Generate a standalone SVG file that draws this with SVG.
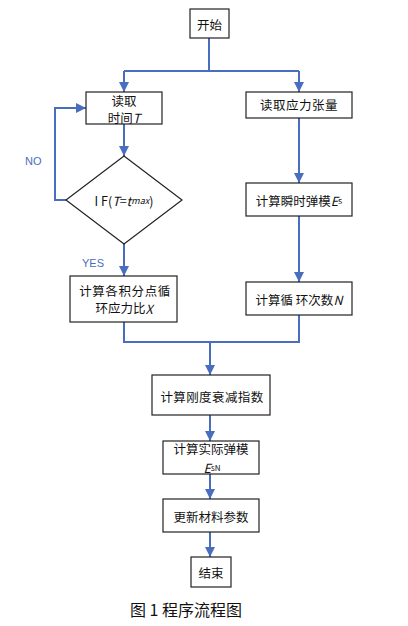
<svg xmlns="http://www.w3.org/2000/svg" width="408" height="626" viewBox="0 0 408 626">
<style>
.box{fill:#fff;stroke:#222;stroke-width:1.2}
.ln{fill:none;stroke:#4A6EBE;stroke-width:2}
.t{font-family:"Noto Sans CJK SC","Liberation Sans",sans-serif;font-size:12.5px;fill:#111;text-anchor:middle;dominant-baseline:central}
.i{font-style:italic}
.lb{font-family:"Liberation Sans",sans-serif;font-size:11px;fill:#4A6EBE;dominant-baseline:central}
.cap{font-family:"Noto Sans CJK SC","Liberation Serif",serif;font-size:16px;fill:#111;text-anchor:middle;dominant-baseline:central}
</style>
<defs>
<marker id="ah" viewBox="0 0 10 10" refX="10" refY="5" markerWidth="5" markerHeight="5" markerUnits="strokeWidth" orient="auto">
<path d="M0,0L10,5L0,10z" fill="#4A6EBE"/>
</marker>
</defs>
<rect width="408" height="626" fill="#fff"/>
<g id="connectors">
<path class="ln" d="M209,38V71"/>
<path class="ln" d="M124,71H299"/>
<path class="ln" d="M124,71V92" marker-end="url(#ah)"/>
<path class="ln" d="M299,71V92" marker-end="url(#ah)"/>
<path class="ln" d="M124,124V156" marker-end="url(#ah)"/>
<path class="ln" d="M66,200H55V108H86" marker-end="url(#ah)"/>
<path class="ln" d="M124,244V276" marker-end="url(#ah)"/>
<path class="ln" d="M299,118V183" marker-end="url(#ah)"/>
<path class="ln" d="M299,216V282" marker-end="url(#ah)"/>
<path class="ln" d="M124,322V342H299V315"/>
<path class="ln" d="M210,342V375" marker-end="url(#ah)"/>
<path class="ln" d="M210,415V441" marker-end="url(#ah)"/>
<path class="ln" d="M210,474V499" marker-end="url(#ah)"/>
<path class="ln" d="M210,532V557" marker-end="url(#ah)"/>
<text class="lb" x="25" y="161">NO</text>
<text class="lb" x="82" y="263">YES</text>
</g>
<g id="start"><rect class="box" x="190" y="9" width="39" height="29"/><text class="t" x="209.5" y="24">开始</text></g>
<g id="readT"><rect class="box" x="86" y="92" width="76" height="32"/><text class="t" x="124" y="100">读取</text><text class="t" x="124" y="117">时间<tspan class="i">T</tspan></text></g>
<g id="readStress"><rect class="box" x="246" y="92" width="106" height="26"/><text class="t" x="299" y="104.5" letter-spacing="0.5">读取应力张量</text></g>
<g id="ifT"><path class="box" d="M124,156L182,200L124,244L66,200Z"/><text class="t" x="124" y="200" font-size="11.5">I F(<tspan class="i">T</tspan>=<tspan class="i">t<tspan font-size="9">max</tspan></tspan>)</text></g>
<g id="calcX"><rect class="box" x="70" y="276" width="107" height="46"/><text class="t" x="125" y="290" letter-spacing="0.6">计算各积分点循</text><text class="t" x="124" y="307.5">环应力比<tspan class="i">X</tspan></text></g>
<g id="calcEs"><rect class="box" x="246" y="183" width="106" height="33"/><text class="t" x="299" y="200">计算瞬时弹模<tspan class="i">E</tspan><tspan font-size="9">s</tspan></text></g>
<g id="calcN"><rect class="box" x="246" y="282" width="106" height="33"/><text class="t" x="299" y="299">计算循 环次数<tspan class="i">N</tspan></text></g>
<g id="calcDecay"><rect class="box" x="152" y="375" width="118" height="40"/><text class="t" x="212" y="396" letter-spacing="0.4">计算刚度衰减指数</text></g>
<g id="calcEsN"><rect class="box" x="163" y="441" width="96" height="33"/><text class="t" x="211" y="448.5">计算实际弹模</text><text class="t" x="212" y="467" font-size="11"><tspan class="i">E</tspan><tspan font-size="8">sN</tspan></text></g>
<g id="update"><rect class="box" x="163" y="499" width="96" height="33"/><text class="t" x="211" y="516">更新材料参数</text></g>
<g id="end"><rect class="box" x="191" y="557" width="40" height="30"/><text class="t" x="211" y="572">结束</text></g>
<text class="cap" x="186" y="609">图 1 程序流程图</text>
</svg>
